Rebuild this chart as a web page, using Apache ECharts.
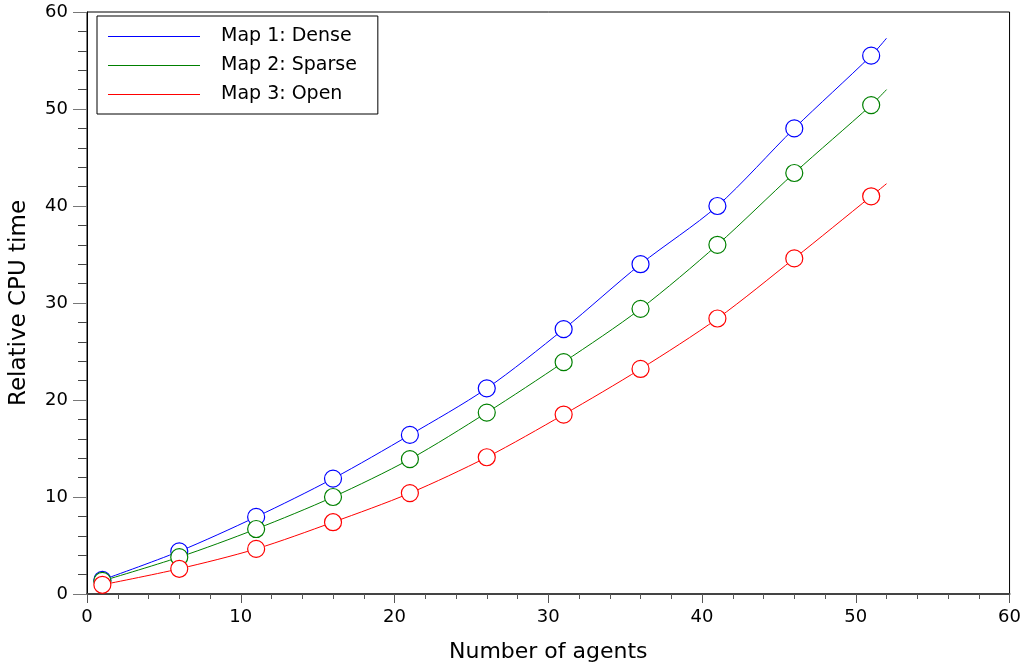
<!DOCTYPE html>
<html>
<head>
<meta charset="utf-8">
<script src="https://cdn.jsdelivr.net/npm/echarts@6/dist/echarts.min.js"></script>
<style>
  html, body { margin: 0; padding: 0; background: #fff; }
  #chart { width: 1024px; height: 669px; }
</style>
</head>
<body>
<div id="chart"></div>
<script>
// agents count (markers every 5, last point is curve end without marker)
const agents = [1, 6, 11, 16, 21, 26, 31, 36, 41, 46, 51, 52];
const dense  = [1.45, 4.4, 7.95, 11.9, 16.4, 21.2, 27.3, 34.0, 40.0, 48.0, 55.5, 57.3];
const sparse = [1.35, 3.8, 6.7, 10.0, 13.9, 18.7, 23.9, 29.4, 36.0, 43.4, 50.4, 52.0];
const open   = [0.95, 2.6, 4.65, 7.4, 10.4, 14.1, 18.5, 23.2, 28.4, 34.6, 41.0, 42.3];
const seriesNames = ['Map 1: Dense', 'Map 2: Sparse', 'Map 3: Open'];
const colors = ['#0000ff', '#008000', '#ff0000'];

const FONT = 'DejaVu Sans';

function toPoints(ys) {
  return ys.map((y, i) => {
    const item = { value: [agents[i], y] };
    if (i === ys.length - 1) item.symbol = 'none';
    return item;
  });
}

const chart = echarts.init(document.getElementById('chart'));

chart.setOption({
  animation: false,
  backgroundColor: '#fff',
  grid: {
    left: 85, right: 14, top: 12, bottom: 75,
    show: true, borderColor: '#000', borderWidth: 1
  },
  legend: {
    orient: 'vertical',
    left: 97, top: 16,
    padding: [10, 21, 9, 11],
    backgroundColor: '#fff',
    borderColor: '#000',
    borderWidth: 1,
    itemGap: 8,
    itemWidth: 92,
    itemHeight: 1,
    icon: 'rect',
    data: seriesNames.map((name, k) => ({
      name: name,
      itemStyle: { color: colors[k], borderWidth: 0 }
    })),
    textStyle: {
      fontFamily: FONT, fontSize: 19, color: '#000',
      lineHeight: 21, padding: [0, 0, 0, 16]
    }
  },
  xAxis: {
    type: 'value',
    min: 0, max: 60, interval: 10,
    name: 'Number of agents',
    nameLocation: 'middle',
    nameGap: 47,
    nameTextStyle: { fontFamily: FONT, fontSize: 22, color: '#000' },
    axisLine: { show: true, lineStyle: { color: '#444', width: 2 } },
    axisTick: { show: true, inside: false, length: 9, lineStyle: { color: '#555' } },
    minorTick: { show: true, splitNumber: 5, length: 5, lineStyle: { color: '#555' } },
    axisLabel: { fontFamily: FONT, fontSize: 18, color: '#000', margin: 14 },
    splitLine: { show: false }
  },
  yAxis: {
    type: 'value',
    min: 0, max: 60, interval: 10,
    name: 'Relative CPU time',
    nameLocation: 'middle',
    nameGap: 56,
    nameTextStyle: { fontFamily: FONT, fontSize: 23, color: '#000' },
    axisLine: { show: true, lineStyle: { color: '#000', width: 1 } },
    axisTick: { show: true, inside: false, length: 14, lineStyle: { color: '#777' } },
    minorTick: { show: true, splitNumber: 5, length: 9, lineStyle: { color: '#444' } },
    axisLabel: { fontFamily: FONT, fontSize: 18, color: '#000', margin: 19 },
    splitLine: { show: false }
  },
  series: seriesNames.map((name, k) => ({
    name: name,
    type: 'line',
    data: toPoints([dense, sparse, open][k]),
    smooth: 0.3,
    symbol: 'circle',
    symbolSize: 17,
    color: colors[k],
    lineStyle: { color: colors[k], width: 1 },
    itemStyle: { color: '#fff', borderColor: colors[k], borderWidth: 1.2 }
  }))
});
</script>
</body>
</html>
